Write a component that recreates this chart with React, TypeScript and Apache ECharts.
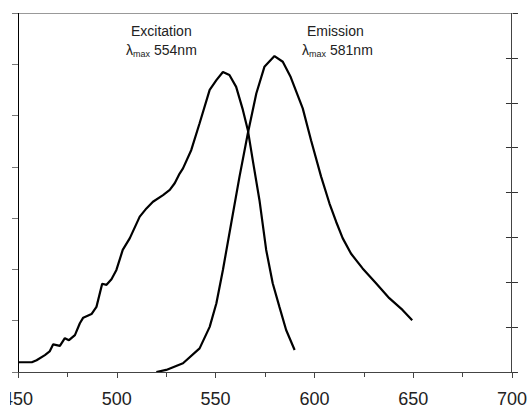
import React, { useEffect, useRef } from "react";
import * as echarts from "echarts";

const excitationX = [450, 457, 459.4, 463.6, 466, 467.8, 471.2, 473.7, 475.8, 478.8, 481.3, 483, 487.2, 489.7, 492.6, 494.8, 497.3, 499.8, 503, 506.6, 511.6, 515, 518.3, 523.4, 526.8, 529.3, 531.8, 533.5, 537.7, 541.9, 547, 550.4, 553.7, 557, 560.4, 563.8, 566.3, 568.8, 572.2, 575.6, 578.9, 582.3, 585.7, 590];
const excitationY = [0.19, 0.19, 0.23, 0.33, 0.4, 0.54, 0.51, 0.66, 0.62, 0.72, 0.95, 1.06, 1.13, 1.27, 1.72, 1.7, 1.81, 1.99, 2.38, 2.61, 3.03, 3.19, 3.32, 3.45, 3.55, 3.68, 3.87, 3.97, 4.33, 4.85, 5.5, 5.69, 5.85, 5.79, 5.56, 5.11, 4.72, 4.13, 3.35, 2.38, 1.73, 1.27, 0.82, 0.43];

const emissionX = [520, 525, 533.5, 541.9, 547, 550.4, 553.7, 557.9, 562.1, 566.3, 570.6, 574.7, 579.8, 584, 588, 594.1, 598.3, 603.4, 607.6, 611, 614.3, 618.5, 624.4, 631.2, 637.9, 644.6, 649.5];
const emissionY = [0.0, 0.04, 0.17, 0.46, 0.88, 1.34, 1.99, 2.9, 3.81, 4.65, 5.43, 5.95, 6.16, 6.05, 5.75, 5.14, 4.52, 3.81, 3.29, 2.93, 2.61, 2.31, 2.02, 1.73, 1.44, 1.21, 1.01];

const xTickLabels = [450, 500, 550, 600, 650, 700];
const xRange = [450, 700];
const yRange = [0, 7];

const FONT = "Liberation Sans, Arial, sans-serif";

export default function App() {
  const ref = useRef<HTMLDivElement>(null);
  useEffect(() => {
    if (!ref.current) return;
    const chart = echarts.init(ref.current, null, { renderer: "svg" });
    const exc = excitationX.map((x, i) => [x, excitationY[i]]);
    const emi = emissionX.map((x, i) => [x, emissionY[i]]);
    const lambdaRich = {
      l: { fontSize: 14, fontFamily: FONT, color: "#222" },
      s: { fontSize: 9, fontFamily: FONT, color: "#222", verticalAlign: "bottom", padding: [7, 4, 0, 0] },
      n: { fontSize: 14, fontFamily: FONT, color: "#222" },
    };
    chart.setOption({
      animation: false,
      backgroundColor: "#fff",
      grid: { left: 18, right: 18, top: 13, bottom: 39, containLabel: false },
      xAxis: [
        {
          type: "value",
          min: xRange[0],
          max: xRange[1],
          interval: 50,
          position: "bottom",
          axisLine: { show: false },
          axisTick: { show: true, inside: false, length: 6, lineStyle: { color: "#444" } },
          minorTick: { show: true, splitNumber: 2, length: 5, lineStyle: { color: "#444" } },
          splitLine: { show: false },
          axisLabel: {
            show: true,
            margin: 18,
            fontSize: 18,
            fontFamily: FONT,
            color: "#222",
            formatter: (v: number) => (xTickLabels.includes(v) ? String(v) : ""),
          },
        },
      ],
      yAxis: [
        {
          type: "value",
          min: yRange[0],
          max: yRange[1],
          interval: 1,
          position: "left",
          axisLine: { show: false },
          axisTick: { show: true, inside: false, length: 6, lineStyle: { color: "#777" } },
          axisLabel: { show: false },
          splitLine: { show: false },
        },
        {
          type: "value",
          min: 0,
          max: 8,
          interval: 1,
          position: "right",
          axisLine: { show: false },
          axisTick: { show: true, inside: false, length: 6, lineStyle: { color: "#333" } },
          axisLabel: { show: false },
          splitLine: { show: false },
        },
        {
          type: "value",
          min: 0,
          max: 8,
          interval: 1,
          position: "right",
          axisLine: { show: false },
          axisTick: { show: true, inside: true, length: 6, lineStyle: { color: "#333" } },
          axisLabel: { show: false },
          splitLine: { show: false },
        },
      ],
      series: [
        {
          type: "custom",
          silent: true,
          clip: false,
          z: 10,
          data: [[xRange[0], yRange[0]]],
          renderItem: (_params: any, api: any) => {
            const lb = api.coord([xRange[0], yRange[0]]);
            const rt = api.coord([xRange[1], yRange[1]]);
            const l = Math.round(lb[0]);
            const b = Math.round(lb[1]);
            const r = Math.round(rt[0]);
            const t = Math.round(rt[1]);
            return {
              type: "group",
              children: [
                { type: "rect", shape: { x: l, y: t, width: r - l + 1, height: 1 }, style: { fill: "#999", stroke: null } },
                { type: "rect", shape: { x: l, y: t, width: 1, height: b - t + 1 }, style: { fill: "#000", stroke: null } },
                { type: "rect", shape: { x: r - 1, y: t, width: 1, height: b - t + 1 }, style: { fill: "#444", stroke: null } },
                { type: "rect", shape: { x: l, y: b, width: r - l, height: 1 }, style: { fill: "#444", stroke: null } },
              ],
            };
          },
        },
        {
          name: "Excitation",
          type: "line",
          data: exc,
          showSymbol: false,
          symbol: "none",
          lineStyle: { color: "#000", width: 2.2 },
          xAxisIndex: 0,
          yAxisIndex: 0,
          z: 3,
        },
        {
          name: "Emission",
          type: "line",
          data: emi,
          showSymbol: false,
          symbol: "none",
          lineStyle: { color: "#000", width: 2.2 },
          xAxisIndex: 0,
          yAxisIndex: 0,
          z: 3,
        },
      ],
      graphic: [
        {
          type: "text",
          left: 131,
          top: 24,
          style: { text: "Excitation", fontSize: 14, fontFamily: FONT, fill: "#222" },
        },
        {
          type: "text",
          left: 126,
          top: 43,
          style: { text: "{l|λ}{s|max}{n|554nm}", rich: lambdaRich, fill: "#222" },
        },
        {
          type: "text",
          left: 307,
          top: 24,
          style: { text: "Emission", fontSize: 14, fontFamily: FONT, fill: "#222" },
        },
        {
          type: "text",
          left: 302,
          top: 43,
          style: { text: "{l|λ}{s|max}{n|581nm}", rich: lambdaRich, fill: "#222" },
        },
        {
          type: "rect",
          left: 0,
          top: 380,
          shape: { width: 10, height: 31 },
          style: { fill: "#fff" },
          z: 100,
        },
      ],
    });
    return () => chart.dispose();
  }, []);
  return (
    <div
      ref={ref}
      style={{ position: "fixed", left: 0, top: 0, width: 530, height: 411, background: "#fff" }}
    />
  );
}
